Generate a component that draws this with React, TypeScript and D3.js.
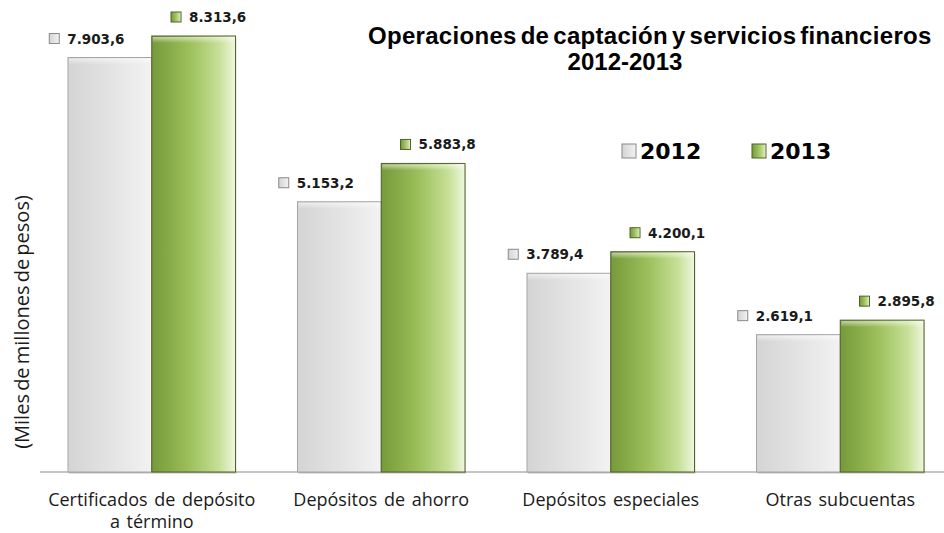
import React, { useEffect, useRef } from 'react';
import * as d3 from 'd3';

const categories = ['Certificados de depósito|a término', 'Depósitos de ahorro', 'Depósitos especiales', 'Otras subcuentas'];
const years = ['2012', '2013'];
const values2012 = [7903.6, 5153.2, 3789.4, 2619.1];
const values2013 = [8313.6, 5883.8, 4200.1, 2895.8];

const fmt = (v: number) => {
    const s = d3.format(',.1f')(v);
    return s.replace(/,/g, '#').replace('.', ',').replace(/#/g, '.');
};

export default function App() {
    const svgRef = useRef<SVGSVGElement>(null);

    useEffect(() => {
        const svg = d3.select(svgRef.current);
        svg.selectAll('*').remove();

        const W = 944, H = 533;
        const baseY = 472;
        const defs = svg.append('defs');

        const grayGrad = defs.append('linearGradient').attr('id', 'g2012');
        grayGrad.append('stop').attr('offset', '0%').attr('stop-color', '#d4d4d4');
        grayGrad.append('stop').attr('offset', '100%').attr('stop-color', '#f2f2f2');

        const greenGrad = defs.append('linearGradient').attr('id', 'g2013');
        greenGrad.append('stop').attr('offset', '0%').attr('stop-color', '#76993a');
        greenGrad.append('stop').attr('offset', '45%').attr('stop-color', '#9dc05c');
        greenGrad.append('stop').attr('offset', '80%').attr('stop-color', '#c6df96');
        greenGrad.append('stop').attr('offset', '100%').attr('stop-color', '#eef7de');

        const topGrad = defs.append('linearGradient').attr('id', 'bevel').attr('x1', 0).attr('x2', 0).attr('y1', 0).attr('y2', 1);
        topGrad.append('stop').attr('offset', '0%').attr('stop-color', '#fff').attr('stop-opacity', 0.55);
        topGrad.append('stop').attr('offset', '100%').attr('stop-color', '#fff').attr('stop-opacity', 0);

        const x0 = d3.scaleBand().domain(categories).range([37, 955]);
        const x1 = d3.scaleBand().domain(years).range([x0.bandwidth() * 0.135, x0.bandwidth() * 0.865]);
        const y = d3.scaleLinear().domain([0, 8313.6]).range([baseY, 36]);

        const rows = categories.map((c, i) => ({ c, vals: [values2012[i], values2013[i]] }));

        // Axis line
        svg.append('line')
            .attr('x1', 40).attr('x2', W)
            .attr('y1', baseY).attr('y2', baseY)
            .attr('stroke', '#8c8c8c').attr('stroke-width', 1.2);

        rows.forEach(r => {
            const g = svg.append('g').attr('transform', `translate(${x0(r.c)},0)`);
            r.vals.forEach((v, j) => {
                const bx = x1(years[j])!;
                const bw = x1.bandwidth();
                const top = y(v);
                // shadow
                g.append('rect')
                    .attr('x', bx + 1).attr('y', top + 2)
                    .attr('width', bw).attr('height', baseY - top)
                    .attr('fill', '#000').attr('opacity', 0.12);
                g.append('rect')
                    .attr('x', bx).attr('y', top)
                    .attr('width', bw).attr('height', baseY - top)
                    .attr('fill', j === 0 ? 'url(#g2012)' : 'url(#g2013)')
                    .attr('stroke', j === 0 ? '#a6a6a6' : '#4f6228')
                    .attr('stroke-width', 1);
                g.append('rect')
                    .attr('x', bx + 1).attr('y', top + 1)
                    .attr('width', bw - 2).attr('height', 6)
                    .attr('fill', 'url(#bevel)');

                // value label with marker
                const cx = bx + bw / 2 + (j === 0 ? -22 : 16);
                const lg = g.append('g').attr('transform', `translate(${cx},${top - 14})`);
                const txt = lg.append('text')
                    .attr('x', 8)
                    .attr('text-anchor', 'middle')
                    .attr('font-family', 'DejaVu Sans, Verdana, sans-serif')
                    .attr('font-weight', 'bold')
                    .attr('font-size', 13.5)
                    .attr('fill', '#1a1a1a')
                    .text(fmt(v));
                const tw = (txt.node() as SVGTextElement).getComputedTextLength();
                lg.append('rect')
                    .attr('x', 8 - tw / 2 - 18).attr('y', -10)
                    .attr('width', 10).attr('height', 10)
                    .attr('fill', j === 0 ? 'url(#g2012)' : 'url(#g2013)')
                    .attr('stroke', j === 0 ? '#8a8a8a' : '#4f6228')
                    .attr('stroke-width', 1);
            });

            // category label
            const parts = r.c.split('|');
            const lab = svg.append('text')
                .attr('x', x0(r.c)! + x0.bandwidth() / 2)
                .attr('y', 506)
                .attr('text-anchor', 'middle')
                .attr('font-family', 'Open Sans, sans-serif')
                .attr('font-size', 18)
                .attr('word-spacing', 2)
                .attr('fill', '#1a1a1a');
            parts.forEach((p, k) => {
                lab.append('tspan')
                    .attr('x', x0(r.c)! + x0.bandwidth() / 2)
                    .attr('dy', k === 0 ? 0 : 22)
                    .text(p);
            });
        });

        // Title
        svg.append('text')
            .attr('x', 368).attr('y', 44)
            .attr('font-family', 'Liberation Sans, Arial, sans-serif')
            .attr('font-weight', 'bold')
            .attr('font-size', 24)
            .attr('letter-spacing', 0.3)
            .attr('word-spacing', -3)
            .attr('fill', '#000')
            .text('Operaciones de captación y servicios financieros');
        svg.append('text')
            .attr('x', 625).attr('y', 70)
            .attr('text-anchor', 'middle')
            .attr('font-family', 'Liberation Sans, Arial, sans-serif')
            .attr('font-weight', 'bold')
            .attr('font-size', 24)
            .attr('fill', '#000')
            .text('2012-2013');

        // Legend
        years.forEach((yr, i) => {
            const lx = 622 + i * 130;
            svg.append('rect')
                .attr('x', lx).attr('y', 144)
                .attr('width', 14).attr('height', 14)
                .attr('fill', i === 0 ? 'url(#g2012)' : 'url(#g2013)')
                .attr('stroke', i === 0 ? '#8a8a8a' : '#4f6228');
            svg.append('text')
                .attr('x', lx + 18).attr('y', 159)
                .attr('font-family', 'DejaVu Sans, Verdana, sans-serif')
                .attr('font-weight', 'bold')
                .attr('font-size', 22)
                .attr('fill', '#000')
                .text(yr);
        });

        // Y title
        svg.append('text')
            .attr('transform', `translate(29,${322}) rotate(-90)`)
            .attr('text-anchor', 'middle')
            .attr('font-family', 'Open Sans, sans-serif')
            .attr('font-size', 20)
            .attr('word-spacing', -2)
            .attr('fill', '#1a1a1a')
            .text('(Miles de millones de pesos)');

        svg.attr('viewBox', `0 0 ${W} ${H}`);
    }, []);

    return (
        <svg ref={svgRef} width={944} height={533}
            style={{ position: 'absolute', left: 0, top: 0, background: '#fff' }} />
    );
}
